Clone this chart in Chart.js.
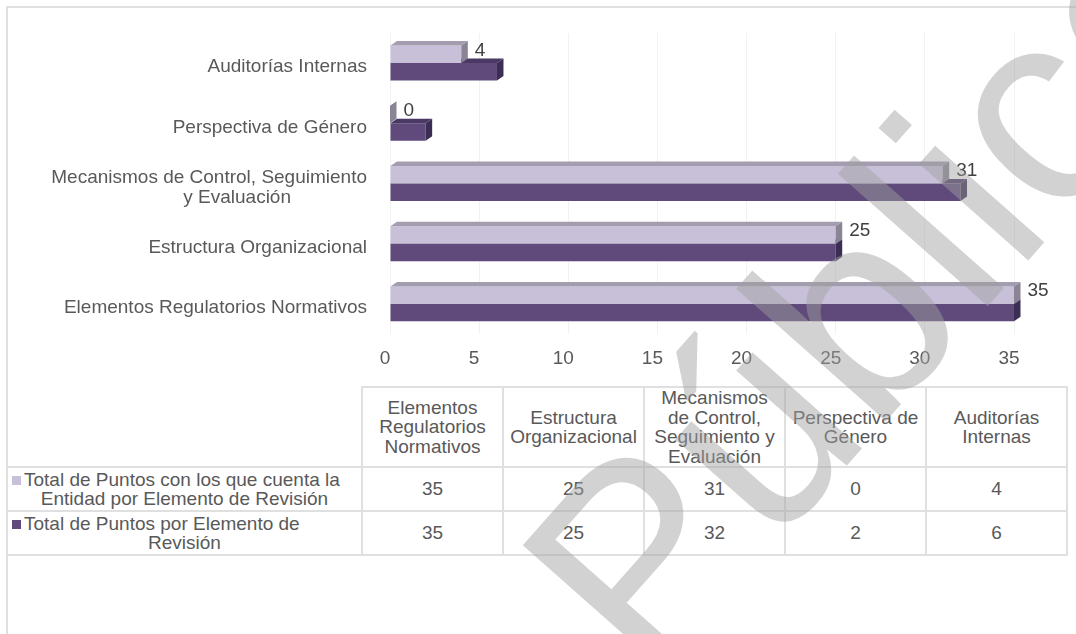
<!DOCTYPE html>
<html>
<head>
<meta charset="utf-8">
<script src="https://cdn.jsdelivr.net/npm/chart.js@4.4.0/dist/chart.umd.min.js"></script>
<style>
  body { margin: 0; background: #fff; font-family: "Liberation Sans", Arial, sans-serif; color: #595959; }
  #wrap { position: relative; width: 1076px; height: 634px; overflow: hidden; }
  .frame-top { position: absolute; left: 6px; top: 6px; width: 1070px; height: 2px; background: #e0e0e0; }
  .frame-left { position: absolute; left: 6px; top: 6px; width: 2px; height: 628px; background: #e0e0e0; }
  #chart { position: absolute; left: 0; top: 0; }
  #tbl { position: absolute; left: 6px; top: 386px; border-collapse: collapse; table-layout: fixed;
         width: 1060px; font-size: 19px; line-height: 19.5px; }
  #tbl td { border: 2px solid #e0e0e0; text-align: center; padding: 0; vertical-align: middle; }
  #tbl tr.head td { height: 73px; }
  #tbl tr.data td { height: 42px; }
  #tbl td.corner { border-top: none; border-left: none; }
  #tbl td.lab { text-align: left; }
  .l1 { white-space: nowrap; padding-left: 4px; }
  .l2 { text-align: center; }
  .key { display: inline-block; width: 9px; height: 9px; margin-right: 3px; vertical-align: 1px; }
  #wm { position: absolute; left: 0; top: 0; pointer-events: none; }
</style>
</head>
<body>
<div id="wrap">
  <div class="frame-top"></div>
  <div class="frame-left"></div>
  <canvas id="chart" width="1076" height="380"></canvas>
  <table id="tbl">
    <colgroup><col style="width:355px"><col style="width:141px"><col style="width:141px"><col style="width:141px"><col style="width:141px"><col style="width:141px"></colgroup>
    <tbody id="tbody"></tbody>
  </table>
  <svg id="wm" width="1076" height="634">
    <text x="650" y="688" font-size="276" font-family="Liberation Sans, Arial" fill="rgb(160,160,160)"
          fill-opacity="0.47" transform="rotate(-48.5 650 688)">Público</text>
  </svg>
</div>
<script>
// categories in data order (bottom of the chart first)
const categories = ["Elementos Regulatorios Normativos", "Estructura Organizacional",
  "Mecanismos de Control, Seguimiento y Evaluación", "Perspectiva de Género", "Auditorías Internas"];
const axisLabels = ["Elementos Regulatorios Normativos", "Estructura Organizacional",
  ["Mecanismos de Control, Seguimiento", "y Evaluación\u2002\u2002\u2002\u2002\u2002\u2002\u2002\u2002"],
  "Perspectiva de Género", "Auditorías Internas"];
const tableHeads = [["Elementos", "Regulatorios", "Normativos"], ["Estructura", "Organizacional"],
  ["Mecanismos", "de Control,", "Seguimiento y", "Evaluación"], ["Perspectiva de", "Género"], ["Auditorías", "Internas"]];
const seriesNames = [["Total de Puntos con los que cuenta la", "Entidad por Elemento de Revisión"],
  ["Total de Puntos por Elemento de", "Revisión"]];
const puntosEntidad = [35, 25, 31, 0, 4];
const puntosTotal = [35, 25, 32, 2, 6];
const xTicks = [0, 5, 10, 15, 20, 25, 30, 35];

const FONT = '"Liberation Sans", Arial, sans-serif';
const TXT = "#595959";
const front = ["#c8c0d9", "#5f4a7b"];
const faces = [{ top: "#a49daf", side: "#8a8494" }, { top: "#4a3964", side: "#3c2d54" }];
const DX = 6.5, DY = 4.5;

// data table under the chart
const tbody = document.getElementById("tbody");
let html = '<tr class="head"><td class="corner"></td>' +
  tableHeads.map(h => "<td>" + h.join("<br>") + "</td>").join("") + "</tr>";
[puntosEntidad, puntosTotal].forEach((vals, s) => {
  html += '<tr class="data"><td class="lab"><div class="l1"><span class="key" style="background:' + front[s] +
    '"></span>' + seriesNames[s][0] + '</div><div class="l2">' + seriesNames[s][1] + "</div></td>" +
    vals.map(v => "<td>" + v + "</td>").join("") + "</tr>";
});
tbody.innerHTML = html;

// fake 3d faces + value labels
const bar3d = {
  id: "bar3d",
  afterDatasetDraw(chart, args) {
    const ctx = chart.ctx, f = faces[args.index];
    ctx.save();
    args.meta.data.forEach(bar => {
      const { x, y, base, height } = bar.getProps(["x", "y", "base", "height"], true);
      const t = y - height / 2, b = y + height / 2;
      ctx.fillStyle = f.top;
      ctx.beginPath();
      ctx.moveTo(base, t); ctx.lineTo(x, t); ctx.lineTo(x + DX, t - DY); ctx.lineTo(base + DX, t - DY);
      ctx.closePath(); ctx.fill();
      ctx.fillStyle = f.side;
      ctx.beginPath();
      ctx.moveTo(x, t); ctx.lineTo(x + DX, t - DY); ctx.lineTo(x + DX, b - DY); ctx.lineTo(x, b);
      ctx.closePath(); ctx.fill();
    });
    ctx.restore();
  },
  afterDatasetsDraw(chart) {
    const ctx = chart.ctx;
    ctx.save();
    ctx.font = "19px " + FONT;
    ctx.fillStyle = "#404040";
    ctx.textAlign = "left";
    ctx.textBaseline = "middle";
    chart.getDatasetMeta(0).data.forEach((bar, i) => {
      ctx.fillText(puntosEntidad[i], bar.x + DX + 7, bar.y - 4);
    });
    ctx.restore();
  }
};

new Chart(document.getElementById("chart"), {
  type: "bar",
  data: {
    labels: axisLabels,
    datasets: [
      { label: seriesNames[0].join(" "), data: puntosEntidad, backgroundColor: front[0] },
      { label: seriesNames[1].join(" "), data: puntosTotal, backgroundColor: front[1] }
    ]
  },
  options: {
    indexAxis: "y",
    responsive: false,
    animation: false,
    layout: { padding: { top: 28, right: 62, left: 0, bottom: 0 } },
    datasets: { bar: { categoryPercentage: 0.58, barPercentage: 1 } },
    plugins: { legend: { display: false }, tooltip: { enabled: false } },
    scales: {
      x: {
        min: 0, max: 35,
        afterBuildTicks: s => { s.ticks = xTicks.map(v => ({ value: v })); },
        afterFit: s => { s.height = 46; },
        grid: { color: "#f2f2f2", drawTicks: false },
        border: { display: false },
        ticks: { color: TXT, padding: 13, labelOffset: -5, font: { family: FONT, size: 19 } }
      },
      y: {
        reverse: true,
        afterFit: s => { s.width = 390; },
        grid: { display: false, drawTicks: false },
        border: { display: false },
        ticks: { color: TXT, padding: 23, labelOffset: 4, font: { family: FONT, size: 19, lineHeight: 1.05 } }
      }
    }
  },
  plugins: [bar3d]
});
</script>
</body>
</html>
